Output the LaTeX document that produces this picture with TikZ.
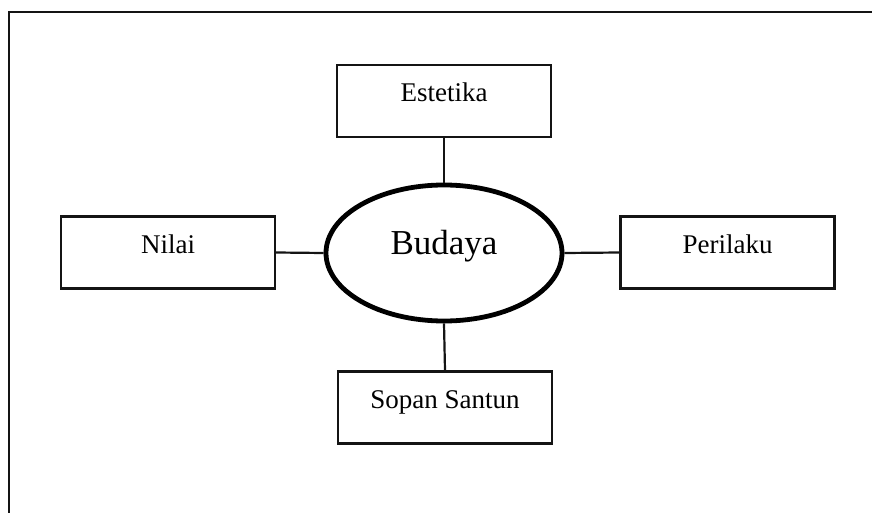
\documentclass[tikz,border=0pt]{standalone}
\usepackage{fontspec}
\setmainfont{Liberation Serif}
\usepackage{tikz}
\usetikzlibrary{positioning, shapes.geometric}
\definecolor{linecolor}{RGB}{20,20,20}

\begin{document}
\begin{tikzpicture}[x=1pt, y=-1pt,
    konsep/.style={rectangle, draw=linecolor, line width=2.2pt, minimum width=214pt, minimum height=72pt,
        inner sep=0pt, text height=20pt, text depth=18pt, font=\fontsize{27}{32}\selectfont},
    pusat/.style={ellipse, draw=black, line width=4.8pt, minimum width=236pt, minimum height=136pt,
        inner sep=0pt, text height=24pt, text depth=21pt, font=\fontsize{35}{42}\selectfont},
    hubung/.style={draw=linecolor, line width=2.2pt}]
    \useasboundingbox (0,0) rectangle (872,513);
    % bingkai luar
    \draw[linecolor, line width=2.8pt] (9,513) |- (872,12);

    \node[pusat] (budaya) at (444,253) {Budaya};
    \node[konsep] (estetika) at (444,101) {Estetika};
    \node[konsep] (nilai) at (168,252.5) {Nilai};
    \node[konsep] (perilaku) at (727.5,252.5) {Perilaku};
    \node[konsep] (sopan) at (445,407.5) {Sopan Santun};

    \draw[hubung] (estetika.south) -- (budaya.north);
    \draw[hubung] (nilai.east) -- (budaya.west);
    \draw[hubung] (budaya.east) -- (perilaku.west);
    \draw[hubung] (budaya.south) -- (sopan.north);
\end{tikzpicture}
\end{document}
